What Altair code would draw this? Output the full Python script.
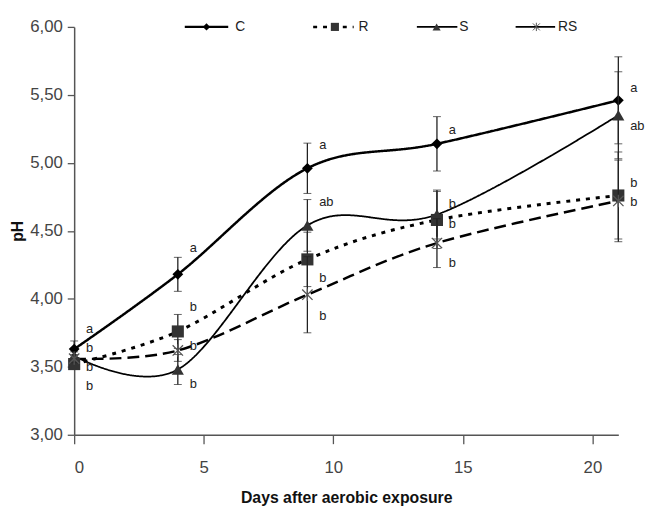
import altair as alt
import pandas as pd

days = [0, 4, 9, 14, 21]
series = ["C", "R", "S", "RS"]
ph = {
    "C": [3.63, 4.18, 4.96, 5.14, 5.46],
    "R": [3.52, 3.76, 4.29, 4.58, 4.76],
    "S": [3.58, 3.48, 4.54, 4.62, 5.35],
    "RS": [3.56, 3.62, 4.03, 4.41, 4.72],
}
err = {
    "C": [0.06, 0.125, 0.185, 0.20, 0.32],
    "R": [0.04, 0.125, 0.20, 0.21, 0.32],
    "S": [0.03, 0.11, 0.19, 0.18, 0.32],
    "RS": [0.03, 0.08, 0.28, 0.18, 0.30],
}
letters = {
    "C": ["a", "a", "a", "a", "a"],
    "R": ["b", "b", "b", "b", "b"],
    "S": ["b", "b", "ab", "b", "ab"],
    "RS": ["b", "b", "b", "b", "b"],
}
# vertical place of each letter (pH units)
letter_y = {
    "C": [3.78, 4.37, 5.13, 5.24, 5.55],
    "R": [3.50, 3.94, 4.15, 4.55, 4.85],
    "S": [3.36, 3.37, 4.71, 4.70, 5.27],
    "RS": [3.64, 3.65, 3.87, 4.26, 4.71],
}
x_ticks = [0, 5, 10, 15, 20]
y_ticks = [3, 3.5, 4, 4.5, 5, 5.5, 6]

styles = {
    "C": dict(width=2.5, dash=[1, 0], shape="diamond", size=120, color="#000000"),
    "R": dict(width=3.0, dash=[4, 6], shape="square", size=150, color="#333333"),
    "S": dict(width=1.8, dash=[1, 0], shape="triangle-up", size=150, color="#333333"),
    "RS": dict(width=2.5, dash=[12, 6], shape="M-1,-1L1,1M-1,1L1,-1M0,-1.2L0,1.2", size=110, color="#555555"),
}

FONT = "Liberation Sans"

xs = alt.Scale(domain=[0, 21], nice=False)
ys = alt.Scale(domain=[3, 6], nice=False)
x_axis = alt.Axis(values=x_ticks, tickSize=9, labelFontSize=17, labelPadding=16,
                  title="Days after aerobic exposure", titleFontSize=16,
                  titleFontWeight="bold", titlePadding=15)
y_axis = alt.Axis(values=y_ticks, tickSize=7, labelFontSize=17, labelPadding=5,
                  labelExpr="replace(format(datum.value, '.2f'), '.', ',')",
                  title="pH", titleFontSize=16, titleFontWeight="bold", titlePadding=4)


def X(field):
    return alt.X(field, scale=xs, axis=x_axis, title="Days after aerobic exposure")


def Y(field):
    return alt.Y(field, scale=ys, axis=y_axis, title="pH")


def frame(s):
    return pd.DataFrame({
        "day": days,
        "ph": ph[s],
        "lo": [v - e for v, e in zip(ph[s], err[s])],
        "hi": [v + e for v, e in zip(ph[s], err[s])],
        "letter": letters[s],
        "ly": letter_y[s],
    })


layers = []
for s in series:
    st = styles[s]
    line = alt.Chart(frame(s)).mark_line(interpolate="cardinal", tension=0, color="#000000",
                                         strokeWidth=st["width"], strokeDash=st["dash"]).encode(
        x=X("day:Q"), y=Y("ph:Q"))
    layers.append(line)

for s in series:
    st = styles[s]
    base = alt.Chart(frame(s))
    eb = base.mark_errorbar(color="#222222", ticks={"size": 8, "strokeWidth": 1.3},
                            rule={"strokeWidth": 1.3}).encode(
        x=X("day:Q"), y=Y("lo:Q"), y2="hi:Q")
    filled = s != "RS"
    pt = base.mark_point(shape=st["shape"], size=st["size"], filled=filled,
                         color=st["color"], opacity=1,
                         strokeWidth=1.3 if not filled else 0).encode(
        x=X("day:Q"), y=Y("ph:Q"))
    tx = base.mark_text(align="left", baseline="middle", dx=12, font=FONT,
                        fontSize=13, color="#222222").encode(
        x=X("day:Q"), y=Y("ly:Q"), text="letter:N")
    layers += [eb, pt, tx]

# legend drawn by hand at the top of the plot area (plot pixel coords)
legend_pos = {
    "C": (112, 156, 134, 163),
    "R": (242, 283, 264, 288),
    "S": (347, 388, 367, 390),
    "RS": (447, 487, 468, 490),
}
one = pd.DataFrame({"k": [0]})
for s in series:
    x1, x2, xm, xt = legend_pos[s]
    st = styles[s]
    lw = 2.2 if s == "C" else (2.5 if s == "R" else 1.8)
    ld = st["dash"] if s == "R" else [1, 0]
    layers.append(alt.Chart(one).mark_rule(color="#000000", strokeWidth=lw, strokeDash=ld).encode(
        x=alt.value(x1), x2=alt.value(x2), y=alt.value(0)))
    filled = s != "RS"
    layers.append(alt.Chart(one).mark_point(shape=st["shape"], size=st["size"] * 0.45,
                                            filled=filled, color=st["color"], opacity=1,
                                            strokeWidth=1 if not filled else 0).encode(
        x=alt.value(xm), y=alt.value(0)))
    layers.append(alt.Chart(one).mark_text(text=s, align="left", baseline="middle",
                                           font=FONT, fontSize=14, color="#222222").encode(
        x=alt.value(xt), y=alt.value(0)))

chart = alt.layer(*layers).properties(
    width=551, height=413,
    padding={"left": 67, "top": 16, "right": 27, "bottom": 70},
    autosize=alt.AutoSizeParams(type="none"),
).configure_view(stroke=None).configure_axis(
    grid=False, domainColor="#555555", tickColor="#555555", domainWidth=1.5, tickWidth=1.3,
    labelFont=FONT, titleFont=FONT, labelColor="#444444", titleColor="#111111",
)

chart.save("out.html", embed_options={"renderer": "svg", "actions": False})
